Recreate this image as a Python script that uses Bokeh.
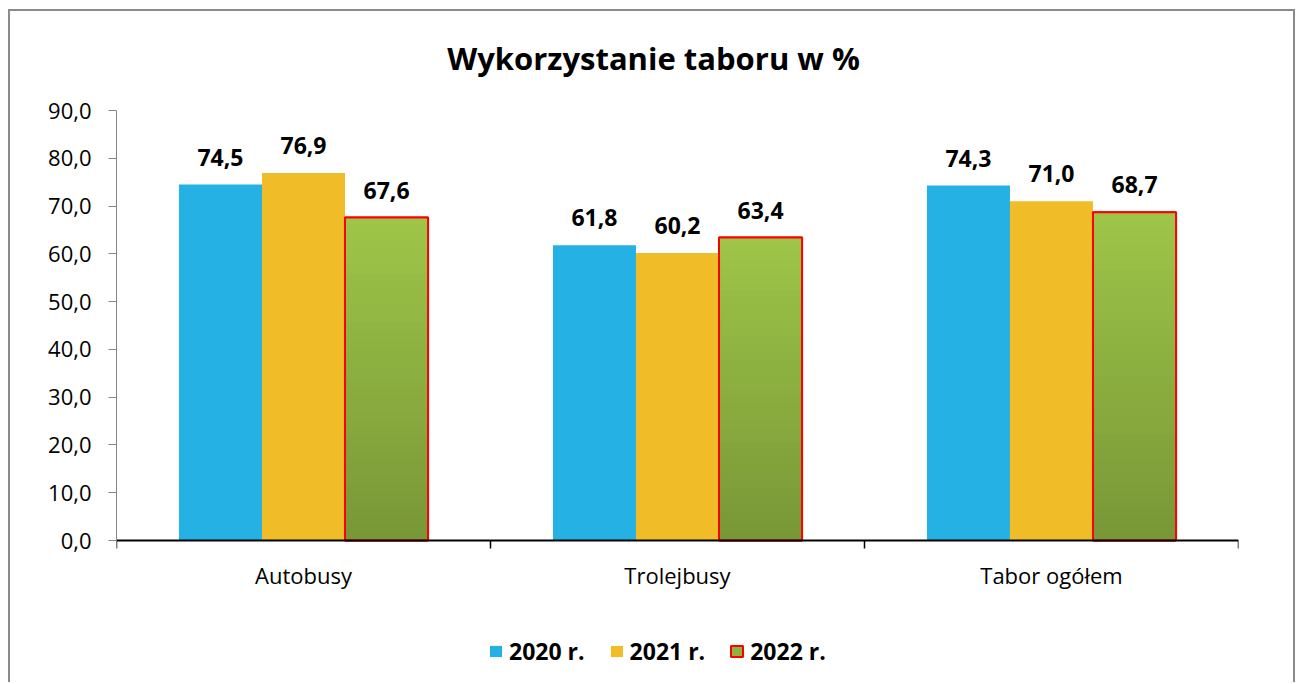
from bokeh.plotting import figure
from bokeh.models import (ColumnDataSource, Range1d, FixedTicker, LabelSet, Label,
                          Legend, LegendItem)
from bokeh.core.properties import value
from bokeh.embed import file_html
from bokeh.resources import INLINE

categories = ["Autobusy", "Trolejbusy", "Tabor ogółem"]
years = ["2020 r.", "2021 r.", "2022 r."]
v2020 = [74.5, 61.8, 74.3]
v2021 = [76.9, 60.2, 71.0]
v2022 = [67.6, 63.4, 68.7]
y_ticks = [0, 10, 20, 30, 40, 50, 60, 70, 80, 90]
title_text = "Wykorzystanie taboru w %"

FONT = "Open Sans"
C_BLUE = "#26B1E5"
C_YELLOW = "#F0BC28"
C_GREEN_MID = "#8DB440"
G_TOP = (0x9E, 0xC5, 0x48)
G_BOT = (0x78, 0x97, 0x37)

# canvas layout (pixels)
W, H = 1287, 673
FL, FR = 106, 1228          # frame left / right
Y90, Y0 = 99, 529           # pixel rows of value 90 and value 0
YMAX = 90.0
ppu = (Y0 - Y90) / YMAX     # pixels per unit
y_top = YMAX + Y90 / ppu
y_bot = -(H - Y0) / ppu

p = figure(width=W, height=H, output_backend="svg", toolbar_location=None,
           x_range=Range1d(0, 3), y_range=Range1d(y_bot, y_top),
           min_border_left=FL, min_border_right=W - FR, min_border_top=0,
           min_border_bottom=0)
p.styles = {"margin-left": "8px", "margin-top": "9px",
            "border-left": "2px solid #8a8a8a", "border-right": "2px solid #8a8a8a",
            "border-top": "2px solid #8a8a8a"}
p.outline_line_color = None
p.xgrid.visible = False
p.ygrid.visible = False
p.background_fill_color = "white"
p.border_fill_color = "white"

bw = 0.222
xs = [i + 0.5 for i in range(len(categories))]
x20 = [x - bw for x in xs]
x21 = list(xs)
x22 = [x + bw for x in xs]

r1 = p.vbar(x=x20, top=v2020, width=bw, bottom=0, fill_color=C_BLUE, line_color=None)
r2 = p.vbar(x=x21, top=v2021, width=bw, bottom=0, fill_color=C_YELLOW, line_color=None)
# base of the 2022 bars (also used as the legend swatch)
r3 = p.vbar(x=x22, top=v2022, width=bw, bottom=0, fill_color=C_GREEN_MID,
            line_color="#FF0000", line_width=2)

# gradient for 2022 bars (stacked slices, slightly overlapping to hide seams)
N = 40
gl, gr, gb, gt, gc = [], [], [], [], []
for x, v in zip(x22, v2022):
    for k in range(N):
        b = v * k / N
        t = min(v, v * (k + 1.6) / N)
        f = (k + 0.5) / N
        col = tuple(int(round(G_BOT[j] + (G_TOP[j] - G_BOT[j]) * f)) for j in range(3))
        gl.append(x - bw / 2); gr.append(x + bw / 2); gb.append(b); gt.append(t)
        gc.append("#%02x%02x%02x" % col)
p.quad(left=gl, right=gr, bottom=gb, top=gt, fill_color=gc, line_color=None)
p.vbar(x=x22, top=v2022, width=bw, bottom=0, fill_color=None, line_color="#FF0000", line_width=2)

# data labels
def fmt(v):
    return ("%.1f" % v).replace(".", ",")

lab = ColumnDataSource(dict(x=x20 + x21 + x22, y=v2020 + v2021 + v2022,
                            t=[fmt(v) for v in v2020 + v2021 + v2022]))
p.add_layout(LabelSet(x="x", y="y", text="t", source=lab, y_offset=19,
                      text_align="center", text_baseline="alphabetic",
                      text_font=value(FONT), text_font_style="bold",
                      text_font_size="23px", text_color="black"))

# axes
yax = p.yaxis[0]
yax.ticker = FixedTicker(ticks=y_ticks)
yax.bounds = (0, YMAX)
yax.major_label_overrides = {float(t): fmt(t) for t in y_ticks}
yax.axis_line_color = "#868686"
yax.major_tick_line_color = "#868686"
yax.major_tick_out = 8
yax.major_tick_in = 0
yax.minor_tick_line_color = None
yax.major_label_standoff = 17
yax.major_label_text_font = FONT
yax.major_label_text_font_size = "22px"
yax.major_label_text_color = "black"

xax = p.xaxis[0]
xax.fixed_location = 0
xax.ticker = FixedTicker(ticks=xs, minor_ticks=[0, 1, 2, 3])
xax.major_label_overrides = {float(x): c for x, c in zip(xs, categories)}
xax.axis_line_color = "black"
xax.axis_line_width = 2
xax.major_tick_out = 0
xax.major_tick_in = 0
xax.minor_tick_out = 8
xax.minor_tick_in = 0
xax.minor_tick_line_color = "black"
xax.minor_tick_line_width = 1.5
xax.major_label_standoff = 11
xax.major_label_text_font = FONT
xax.major_label_text_font_size = "22px"
xax.major_label_text_color = "black"

# title
p.add_layout(Label(x=1.5 - 24 / ((FR - FL) / 3), y=y_top - 46 / ppu, text=title_text,
                   text_align="center", text_baseline="alphabetic",
                   text_font=FONT, text_font_style="bold",
                   text_font_size="31px", text_color="black"))

# legend
leg = Legend(items=[LegendItem(label=years[0], renderers=[r1]),
                    LegendItem(label=years[1], renderers=[r2]),
                    LegendItem(label=years[2], renderers=[r3])],
             orientation="horizontal", location=(372, 17),
             glyph_width=15, glyph_height=14, label_standoff=6, spacing=24,
             padding=0, margin=0, border_line_color=None, background_fill_alpha=0,
             label_text_font=FONT, label_text_font_style="bold",
             label_text_font_size="23px", label_text_color="black")
p.add_layout(leg, "center")

open("out.html", "w").write(file_html(p, INLINE))
